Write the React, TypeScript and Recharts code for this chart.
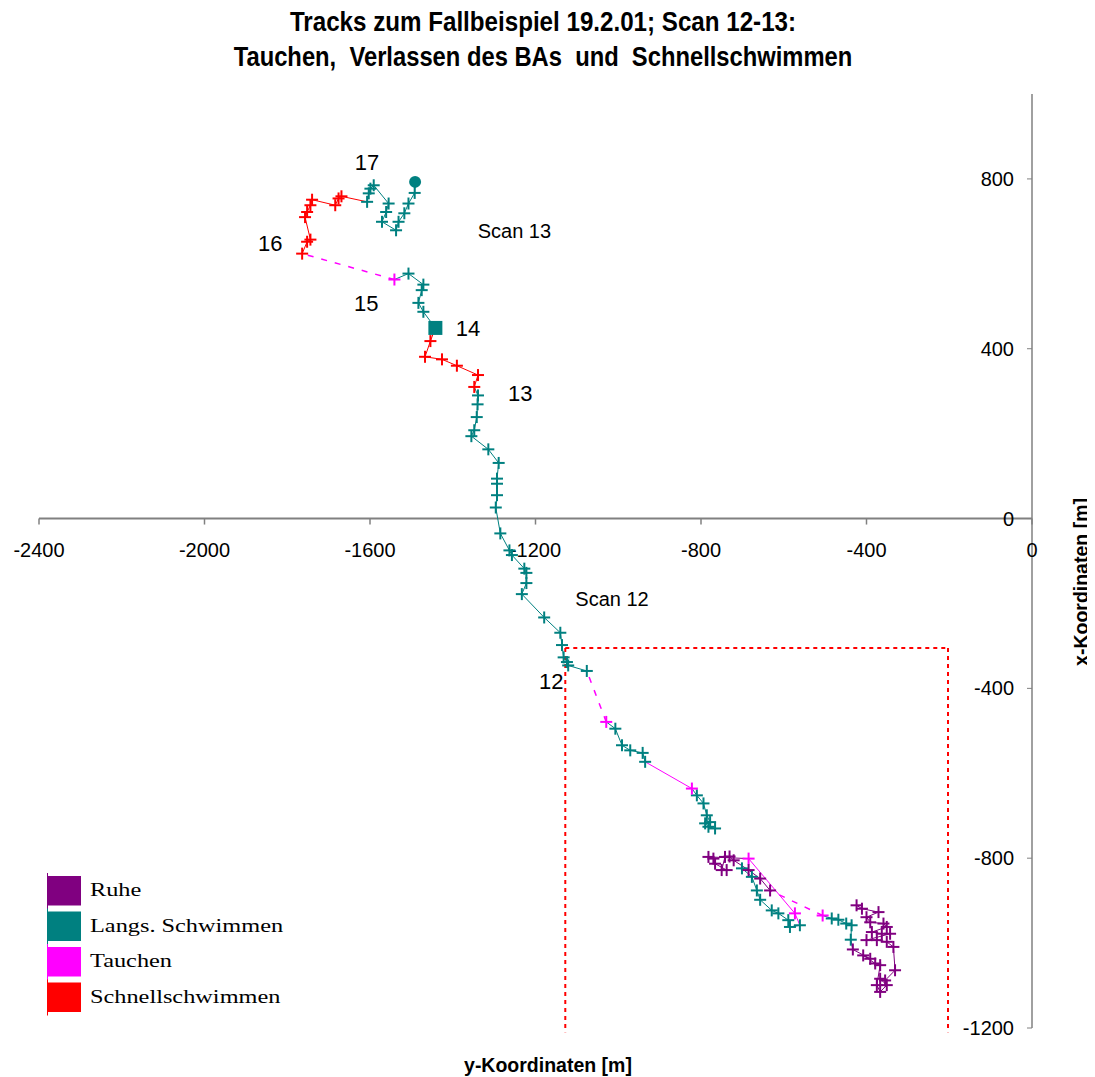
import React from 'react';
import { ScatterChart, Scatter, XAxis, YAxis, ReferenceLine, ReferenceDot } from 'recharts';

type Pt = { x: number; y: number };
const toPts = (a: number[][]): Pt[] => a.map(([x, y]) => ({ x, y }));

// x = y-Koordinate [m], y = x-Koordinate [m]; ordered along the track
const ruhe1 = toPts([[-424,-911],[-411,-919],[-371,-927],[-400,-939],[-391,-951],[-359,-954],[-351,-962],[-387,-974],[-363,-978],[-343,-978],[-400,-993],[-375,-993],[-351,-997],[-335,-1009],[-331,-1064],[-355,-1088],[-367,-1084],[-351,-1099],[-367,-1115],[-375,-1099],[-367,-1052],[-379,-1048],[-408,-1029],[-391,-1037],[-433,-1015]]);
const langs1 = toPts([[-438,-992],[-436,-958],[-449,-954],[-468,-945],[-484,-942]]);
const tauch1 = toPts([[-506,-935]]);
const ruhe2 = toPts([[-633,-876],[-657,-848],[-685,-828],[-721,-805],[-731,-796],[-742,-797],[-750,-828],[-738,-828],[-766,-813],[-770,-801],[-782,-797]]);
const tauch2 = toPts([[-685,-801],[-573,-930]]);
const langs2 = toPts([[-561,-958],[-585,-962],[-589,-946],[-613,-930],[-629,-923],[-657,-898],[-665,-876],[-677,-844],[-701,-824]]);

const langs3 = toPts([[-766,-730],[-782,-726],[-790,-718],[-778,-715],[-786,-699],[-794,-671],[-810,-652]]);
const tauch3 = toPts([[-822,-636]]);
const langs4 = toPts([[-935,-573],[-941,-552],[-971,-546],[-991,-534],[-1007,-495]]);
const tauch4 = toPts([[-1029,-479]]);
const langs5 = toPts([[-1076,-359],[-1121,-346],[-1124,-338],[-1132,-327],[-1136,-298],[-1140,-269],[-1179,-233],[-1233,-178],[-1222,-152],[-1222,-128],[-1227,-118],[-1257,-86],[-1263,-75],[-1285,-35],[-1296,26],[-1293,55],[-1293,82],[-1293,94],[-1289,131],[-1314,163],[-1355,194],[-1348,208],[-1342,239],[-1340,269],[-1339,290]]);
const schnell1 = toPts([[-1348,310],[-1339,338],[-1390,360],[-1426,375],[-1467,381],[-1454,418]]);
const square14 = toPts([[-1442,449]]);
const langs6 = toPts([[-1471,487],[-1483,508],[-1475,538],[-1471,551],[-1507,577]]);
const tauch5 = toPts([[-1541,563]]);
const schnell2 = toPts([[-1764,624],[-1752,652],[-1744,657],[-1757,710],[-1752,722],[-1744,738],[-1740,751],[-1684,738],[-1676,754],[-1669,759]]);
const langs7 = toPts([[-1607,746],[-1603,766],[-1599,777],[-1591,785],[-1555,742],[-1561,722],[-1571,699],[-1537,679],[-1531,699],[-1517,719],[-1507,742],[-1492,767]]);
const endDot = toPts([[-1491,793]]);

const xTicks = [-2400, -2000, -1600, -1200, -800, -400, 0];
const yTicks = [-1200, -800, -400, 0, 400, 800];

const trackLabels = [
  { x: -1607, y: 839, text: '17' },
  { x: -1841, y: 649, text: '16' },
  { x: -1609, y: 507, text: '15' },
  { x: -1363, y: 448, text: '14' },
  { x: -1237, y: 295, text: '13' },
  { x: -1162, y: -383, text: '12' },
];
const scanLabels = [
  { x: -1251, y: 677, text: 'Scan 13' },
  { x: -1015, y: -188, text: 'Scan 12' },
];

const boxX = [-1128, -203];
const boxY = [-305, -1210];

const legendItems = [
  { key: 'R', label: 'Ruhe' },
  { key: 'L', label: 'Langs. Schwimmen' },
  { key: 'T', label: 'Tauchen' },
  { key: 'S', label: 'Schnellschwimmen' },
];

const COLORS: Record<string, string> = { R: '#800080', L: '#008080', T: '#FF00FF', S: '#FF0000', Q: '#008080', E: '#008080' };
const FONT = "'Liberation Sans', Arial, Helvetica, sans-serif";

type Seg = { cat: string; pts: Pt[]; dashed?: boolean };
const trackA: Seg[] = [
  { cat: 'R', pts: ruhe1 },
  { cat: 'L', pts: langs1 },
  { cat: 'T', pts: tauch1, dashed: true },
  { cat: 'R', pts: ruhe2 },
  { cat: 'T', pts: tauch2 },
  { cat: 'L', pts: langs2 },
];
const trackB: Seg[] = [
  { cat: 'L', pts: langs3 },
  { cat: 'T', pts: tauch3 },
  { cat: 'L', pts: langs4 },
  { cat: 'T', pts: tauch4, dashed: true },
  { cat: 'L', pts: langs5 },
  { cat: 'S', pts: schnell1 },
  { cat: 'Q', pts: square14 },
  { cat: 'L', pts: langs6 },
  { cat: 'T', pts: tauch5, dashed: true },
  { cat: 'S', pts: schnell2 },
  { cat: 'L', pts: langs7 },
  { cat: 'E', pts: endDot },
];
const tracks = [trackA, trackB];

const lineSegs = tracks.flatMap((tr) =>
  tr.map((seg, i) => {
    const next = tr[i + 1];
    return { cat: seg.cat, dashed: !!seg.dashed, pts: next ? [...seg.pts, next.pts[0]] : seg.pts };
  })
).filter((s) => s.pts.length > 1);

const markersBy = (cat: string) => tracks.flatMap((tr) => tr.filter((s) => s.cat === cat).flatMap((s) => s.pts));

const plusShape = (color: string) => (props: any) => {
  const { cx, cy } = props;
  if (cx == null || cy == null) return <g />;
  return (
    <g>
      <line x1={cx - 6} x2={cx + 6} y1={cy} y2={cy} stroke={color} strokeWidth={2} />
      <line x1={cx} x2={cx} y1={cy - 6} y2={cy + 6} stroke={color} strokeWidth={2} />
    </g>
  );
};
const squareShape = (props: any) => {
  const { cx, cy } = props;
  if (cx == null) return <g />;
  return <rect x={cx - 7} y={cy - 7} width={14} height={14} fill={COLORS.Q} />;
};
const circleShape = (props: any) => {
  const { cx, cy } = props;
  if (cx == null) return <g />;
  return <circle cx={cx} cy={cy} r={6} fill={COLORS.E} />;
};
const emptyShape = () => <g />;

const W = 1087;
const H = 1069;

export default function App() {
  return (
    <div style={{ position: 'relative', width: W, height: H }}>
      <ScatterChart width={W} height={H} margin={{ top: 86, right: 63, bottom: 49, left: 31 }}>
        <XAxis type="number" dataKey="x" domain={[-2400, 0]} hide allowDataOverflow />
        <YAxis
          type="number"
          dataKey="y"
          domain={[-1200, 1000]}
          orientation="right"
          mirror
          ticks={yTicks}
          interval={0}
          tickSize={5}
          tickMargin={13}
          allowDataOverflow
          axisLine={{ stroke: '#808080', strokeWidth: 1.5 }}
          tickLine={{ stroke: '#808080' }}
          tick={{ fill: '#000', fontSize: 20, fontFamily: FONT }}
        />
        <ReferenceLine y={0} stroke="#808080" strokeWidth={2} />
        {xTicks.map((t) => (
          <ReferenceDot
            key={'xt' + t}
            x={t}
            y={0}
            r={0}
            ifOverflow="visible"
            shape={(p: any) => (
              <g>
                <line x1={p.cx} x2={p.cx} y1={p.cy} y2={p.cy + 6} stroke="#808080" strokeWidth={1.5} />
                <text x={p.cx} y={p.cy + 38} textAnchor="middle" fontSize={20} fontFamily={FONT} fill="#000">{t}</text>
              </g>
            )}
          />
        ))}
        <ReferenceLine segment={[{ x: boxX[0], y: boxY[0] }, { x: boxX[1], y: boxY[0] }]} stroke="#FF0000" strokeWidth={2} strokeDasharray="4 4" ifOverflow="visible" />
        <ReferenceLine segment={[{ x: boxX[0], y: boxY[0] }, { x: boxX[0], y: boxY[1] }]} stroke="#FF0000" strokeWidth={2} strokeDasharray="4 4" ifOverflow="visible" />
        <ReferenceLine segment={[{ x: boxX[1], y: boxY[0] }, { x: boxX[1], y: boxY[1] }]} stroke="#FF0000" strokeWidth={2} strokeDasharray="4 4" ifOverflow="visible" />
        {lineSegs.map((s, i) => (
          <Scatter
            key={'ln' + i}
            data={s.pts}
            isAnimationActive={false}
            shape={emptyShape}
            line={{ stroke: COLORS[s.cat], strokeWidth: s.dashed ? 1.5 : 1, strokeDasharray: s.dashed ? '6 8' : undefined, fill: 'none' }}
            fill={COLORS[s.cat]}
          />
        ))}
        {['L', 'T', 'S', 'R'].map((c) => (
          <Scatter key={'mk' + c} data={markersBy(c)} isAnimationActive={false} shape={plusShape(COLORS[c])} fill={COLORS[c]} />
        ))}
        <Scatter data={square14} isAnimationActive={false} shape={squareShape} fill={COLORS.Q} />
        <Scatter data={endDot} isAnimationActive={false} shape={circleShape} fill={COLORS.E} />
        {trackLabels.map((l) => (
          <ReferenceDot
            key={'tl' + l.text}
            x={l.x}
            y={l.y}
            r={0}
            ifOverflow="visible"
            shape={(p: any) => (
              <text x={p.cx} y={p.cy} dy="0.36em" textAnchor="middle" fontSize={22} fontFamily={FONT} fill="#000">{l.text}</text>
            )}
          />
        ))}
        {scanLabels.map((l) => (
          <ReferenceDot
            key={'sl' + l.text}
            x={l.x}
            y={l.y}
            r={0}
            ifOverflow="visible"
            shape={(p: any) => (
              <text x={p.cx} y={p.cy} dy="0.36em" textAnchor="middle" fontSize={20} fontFamily={FONT} fill="#000">{l.text}</text>
            )}
          />
        ))}
      </ScatterChart>
      <svg width={W} height={H} style={{ position: 'absolute', left: 0, top: 0, pointerEvents: 'none', overflow: 'visible' }}>
        <g transform="translate(535,23) scale(0.895,1)">
          <text x={0} y={0} textAnchor="middle" fontSize={27} fontWeight="bold" fontFamily={FONT} fill="#000">Tracks zum Fallbeispiel 19.2.01; Scan 12-13:</text>
        </g>
        <g transform="translate(535,58) scale(0.88,1)">
          <text x={0} y={0} textAnchor="middle" fontSize={27} fontWeight="bold" fontFamily={FONT} fill="#000" style={{ whiteSpace: 'pre' }}>{'Tauchen,  Verlassen des BAs  und  Schnellschwimmen'}</text>
        </g>
        <text x={540} y={1064} textAnchor="middle" fontSize={19.5} fontWeight="bold" fontFamily={FONT} fill="#000">y-Koordinaten [m]</text>
        <text transform="translate(1080,574) rotate(-90)" textAnchor="middle" fontSize={19.5} fontWeight="bold" fontFamily={FONT} fill="#000">x-Koordinaten [m]</text>
        {legendItems.map((it, i) => {
          const top = 868 + i * 35.5;
          return (
            <g key={it.key}>
              <line x1={39.5} x2={39.5} y1={top - 3} y2={top + 33} stroke={COLORS[it.key]} strokeWidth={1} />
              <rect x={39} y={top} width={34} height={29.5} fill={COLORS[it.key]} />
              <g transform={`translate(82,${top + 20}) scale(1.28,1)`}>
                <text x={0} y={0} fontSize={19} fontFamily="'Liberation Serif', 'Times New Roman', serif" fill="#000">{it.label}</text>
              </g>
            </g>
          );
        })}
      </svg>
    </div>
  );
}
